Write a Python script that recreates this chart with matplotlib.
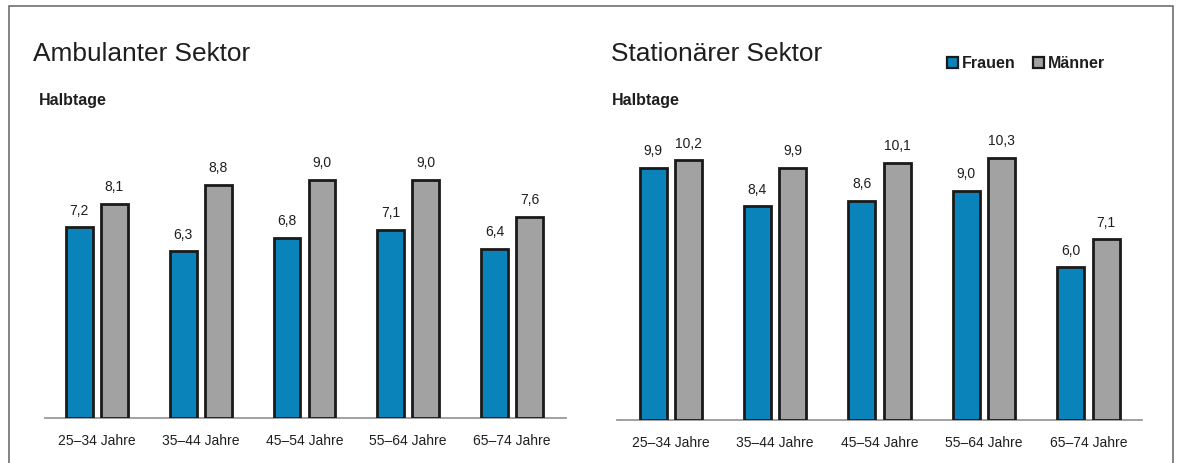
import numpy as np
import matplotlib.pyplot as plt
from matplotlib.patches import Patch, Rectangle

plt.rcParams['font.family'] = ['Liberation Sans', 'DejaVu Sans']

age_groups = ["25–34 Jahre", "35–44 Jahre", "45–54 Jahre", "55–64 Jahre", "65–74 Jahre"]
ambulant_frauen = [7.2, 6.3, 6.8, 7.1, 6.4]
ambulant_maenner = [8.1, 8.8, 9.0, 9.0, 7.6]
stationaer_frauen = [9.9, 8.4, 8.6, 9.0, 6.0]
stationaer_maenner = [10.2, 9.9, 10.1, 10.3, 7.1]

BLUE = "#0a83bb"
GREY = "#a2a2a2"
EDGE = "#1a1a1a"
TEXT = "#1e1e1e"

W, H = 1178, 463
fig = plt.figure(figsize=(W / 100, H / 100), dpi=100)


def fx(px):
    return px / W


def fy(py):
    return 1 - py / H


def fmt(v):
    return f"{v:.1f}".replace(".", ",")


def panel(rect, frauen, maenner, ymax, xlim):
    ax = fig.add_axes(rect)
    x = np.arange(len(age_groups))
    off = 0.169
    width = 0.258
    b1 = ax.bar(x - off, frauen, width, color=BLUE, edgecolor=EDGE, linewidth=2.0, zorder=3)
    b2 = ax.bar(x + off, maenner, width, color=GREY, edgecolor=EDGE, linewidth=2.0, zorder=3)
    for bars, vals in ((b1, frauen), (b2, maenner)):
        for bar, v in zip(bars, vals):
            ax.annotate(fmt(v), (bar.get_x() + bar.get_width() / 2, v),
                        xytext=(0, 7), textcoords="offset points",
                        ha="center", va="bottom", fontsize=10, color=TEXT)
    ax.set_xlim(*xlim)
    ax.set_ylim(0, ymax)
    ax.set_xticks(x)
    ax.set_xticklabels(age_groups, fontsize=10, color=TEXT)
    ax.tick_params(axis="x", length=0, pad=11.5)
    ax.set_yticks([])
    for side in ("top", "right", "left"):
        ax.spines[side].set_visible(False)
    ax.spines["bottom"].set_color("#9a9a9a")
    ax.spines["bottom"].set_linewidth(1.3)
    return ax


# left: ambulant, right: stationaer
panel([fx(45), 44.7 / H, fx(521), 269 / H], ambulant_frauen, ambulant_maenner,
      10.15, (-0.50, 4.52))
panel([fx(616.7), 43 / H, fx(525), 270 / H], stationaer_frauen, stationaer_maenner,
      10.61, (-0.517, 4.51))

fig.text(fx(33), fy(60.7), "Ambulanter Sektor", fontsize=18.9, color=TEXT, va="baseline")
fig.text(fx(39), fy(104.5), "Halbtage", fontsize=11.5, fontweight="bold", color=TEXT, va="baseline")
fig.text(fx(610.7), fy(60.7), "Stationärer Sektor", fontsize=18.9, color=TEXT, va="baseline")
fig.text(fx(611.7), fy(105), "Halbtage", fontsize=11.5, fontweight="bold", color=TEXT, va="baseline")

handles = [Patch(facecolor=BLUE, edgecolor=EDGE, linewidth=1.6),
           Patch(facecolor=GREY, edgecolor=EDGE, linewidth=1.6)]
leg = fig.legend(handles, ["Frauen", "Männer"], ncol=2, frameon=False,
                 loc="center left", bbox_to_anchor=(fx(947), fy(64)),
                 handlelength=0.68, handleheight=0.68, handletextpad=0.25,
                 columnspacing=1.1, borderpad=0, borderaxespad=0,
                 prop={"weight": "bold", "size": 11.5})
for t in leg.get_texts():
    t.set_color(TEXT)

# frame around both panels (open at the bottom)
fig.add_artist(Rectangle((fx(9), -0.1), fx(1164), fy(6) + 0.1,
                         transform=fig.transFigure, fill=False,
                         edgecolor="#6e6e6e", linewidth=1.2))

fig.savefig("out.png", dpi=100)
